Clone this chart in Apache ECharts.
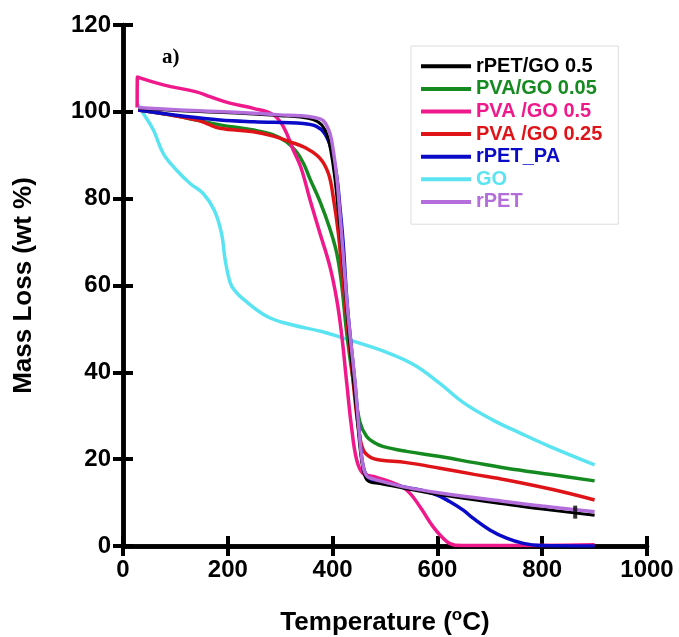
<!DOCTYPE html>
<html>
<head>
<meta charset="utf-8">
<script src="https://cdn.jsdelivr.net/npm/echarts@6/dist/echarts.min.js"></script>
<style>
html,body{margin:0;padding:0;background:#fff;}
#chart{width:679px;height:637px;}
</style>
</head>
<body>
<div id="chart"></div>
<script>
const seriesNames = ['rPET/GO 0.5', 'PVA/GO 0.05', 'PVA /GO 0.5', 'PVA /GO 0.25', 'rPET_PA', 'GO', 'rPET'];
const seriesColors = ['#000000', '#158a20', '#f0198c', '#df1419', '#0a0ac8', '#5ae4f2', '#b46edc'];

const rPET_GO_05 = [[29,100.8],[100,100.3],[180,99.9],[249,99.5],[300,99.1],[338,98.8],[363,98.2],[379,97],[390,94.5],[398,90],[405,84],[411,77],[417,70],[425,58],[432,48],[440,38],[448,28],[455,20],[462,16],[470,14.8],[490,14.4],[541,13.2],[605,11.8],[732,9.6],[800,8.5],[900,7.1]];
const PVA_GO_005 = [[29,100.4],[90,99.3],[141,98.1],[185,97],[249,95.8],[287,94.7],[312,93.1],[331,90.8],[345,88],[357,84.5],[376,79.3],[395,73],[408,67.4],[417,60.5],[427,49],[440,37.5],[452,28.6],[465,25.2],[480,23.8],[497,22.9],[541,21.8],[605,20.6],[670,19.2],[732,17.9],[820,16.4],[900,15]];
const PVA_GO_05 = [[27,101],[27.5,108],[77,106.2],[140,104.6],[166,103.5],[204,102],[249,100.8],[287,99.3],[306,96.6],[325,91.2],[340,87],[357,79.7],[376,72],[395,64.3],[408,56.7],[417,49],[427,37.5],[436,27.5],[446,19.8],[458,16.7],[478,16],[509,14.8],[541,12.9],[567,9],[592,4.4],[618,1],[634,0.2],[700,0.1],[900,0.3]];
const PVA_GO_025 = [[29,100.4],[90,99.3],[141,98.1],[160,97.3],[185,96.2],[249,95.4],[287,94.4],[319,93.1],[350,91.6],[376,89.3],[392,85.8],[401,80.5],[411,72],[420,60.5],[430,49],[439.5,37.5],[449,27.5],[458.6,22.1],[474,20.3],[490,19.8],[541,19.2],[605,17.9],[670,16.5],[732,15.2],[820,13],[900,10.6]];
const rPET_PA = [[29,100.4],[121,98.9],[185,98.1],[249,97.7],[344,97.3],[370,96.6],[385,95],[398,91.2],[408,85],[414,78],[420,70],[427,57],[433,49],[443,37],[451,26],[458,18.5],[466,16],[478,15],[541,13.5],[592,12.1],[624,10.2],[650,8.2],[668,6.4],[700,3.7],[732,1.8],[764,0.6],[796,0.1],[900,0]];
const GO = [[27,102],[39,99.6],[58,95.8],[77,90.4],[102,86.6],[128,83.5],[153,81.2],[174,77.4],[188,72],[195,65.9],[205,60.5],[215,58.6],[229,56.9],[276,52.8],[324,50.9],[379,49.4],[433,47.4],[501,44.7],[556,41.7],[604,37.5],[651,32.9],[706,29],[760,25.9],[815,22.9],[900,18.7]];
const rPET = [[29,101],[100,100.5],[180,100.1],[249,99.7],[300,99.3],[338,99.1],[365,98.7],[382,98],[395,95],[402,90.5],[408,85],[413,78],[417,72],[427,56.7],[433,49],[443,37.5],[451,26],[458,18.5],[466,16],[478,15.4],[490,15],[541,13.5],[605,12.2],[732,10.2],[800,9.2],[900,7.9]];
const seriesData = [rPET_GO_05, PVA_GO_005, PVA_GO_05, PVA_GO_025, rPET_PA, GO, rPET];
const artifactMark = [[863, 7.8]];

const xTicks = [0, 200, 400, 600, 800, 1000];
const yTicks = [0, 20, 40, 60, 80, 100, 120];

const FONT = '"Liberation Sans", Arial, sans-serif';
const AX = {lineStyle: {color: '#000', width: 4.5}};
const TICK = {show: true, inside: false, length: 10, lineStyle: {color: '#000', width: 4}};
const zOrder = [15, 11, 12, 13, 14, 10, 16];

const chart = echarts.init(document.getElementById('chart'), null, {renderer: 'canvas'});

const series = seriesNames.map((n, i) => ({
  name: n,
  type: 'line',
  data: seriesData[i],
  color: seriesColors[i],
  showSymbol: false,
  smooth: 0.4,
  lineStyle: {width: i === 0 ? 3 : 3.5, color: seriesColors[i]},
  z: zOrder[i],
  animation: false
}));
series.push({
  type: 'scatter',
  data: artifactMark,
  symbol: 'rect',
  symbolSize: [4, 13],
  itemStyle: {color: '#000'},
  silent: true,
  animation: false,
  z: 20
});

chart.setOption({
  animation: false,
  backgroundColor: '#fff',
  grid: {left: 123, right: 32, top: 25, bottom: 91, containLabel: false, outerBoundsMode: 'none'},
  legend: {
    orient: 'vertical',
    left: 411, top: 46,
    padding: [9, 16, 11, 10],
    borderColor: '#dcdcdc', borderWidth: 1,
    backgroundColor: '#fff',
    icon: 'rect',
    itemWidth: 50, itemHeight: 4,
    itemGap: 0,
    itemTextGap: 7,
    data: seriesNames.map((n, i) => ({name: n, textStyle: {color: seriesColors[i]}})),
    textStyle: {fontFamily: FONT, fontWeight: 'bold', fontSize: 20, lineHeight: 22.6}
  },
  graphic: [{
    type: 'text', left: 162, top: 47,
    style: {text: 'a)', font: 'bold 21px "Liberation Serif", "Times New Roman", serif', fill: '#000'}
  }],
  xAxis: [{
    type: 'value', min: 0, max: 1000, interval: 200, position: 'bottom',
    axisLine: AX, axisTick: TICK, splitLine: {show: false},
    axisLabel: {margin: 12, color: '#000', fontFamily: FONT, fontWeight: 'bold', fontSize: 24,
      formatter: v => xTicks.includes(v) ? String(v) : ''},
    name: 'Temperature ({sup|o}C)', nameLocation: 'middle', nameGap: 61,
    nameTextStyle: {color: '#000', fontFamily: FONT, fontWeight: 'bold', fontSize: 26, lineHeight: 32,
      rich: {sup: {fontFamily: FONT, fontWeight: 'bold', fontSize: 17, verticalAlign: 'top', lineHeight: 20, color: '#000'}}}
  }, {
    type: 'value', min: 0, max: 1000, interval: 200, position: 'top',
    axisLine: AX, axisTick: TICK, axisLabel: {show: false}, splitLine: {show: false}
  }],
  yAxis: [{
    type: 'value', min: 0, max: 120, interval: 20, position: 'left',
    axisLine: AX, axisTick: TICK, splitLine: {show: false},
    axisLabel: {margin: 12, color: '#000', fontFamily: FONT, fontWeight: 'bold', fontSize: 24,
      formatter: v => yTicks.includes(v) ? String(v) : ''},
    name: 'Mass Loss (wt %)', nameLocation: 'middle', nameGap: 84, nameRotate: 90,
    nameTextStyle: {color: '#000', fontFamily: FONT, fontWeight: 'bold', fontSize: 26, lineHeight: 30}
  }, {
    type: 'value', min: 0, max: 120, interval: 20, position: 'right',
    axisLine: AX, axisTick: TICK, axisLabel: {show: false}, splitLine: {show: false}
  }],
  series: series
});
</script>
</body>
</html>
